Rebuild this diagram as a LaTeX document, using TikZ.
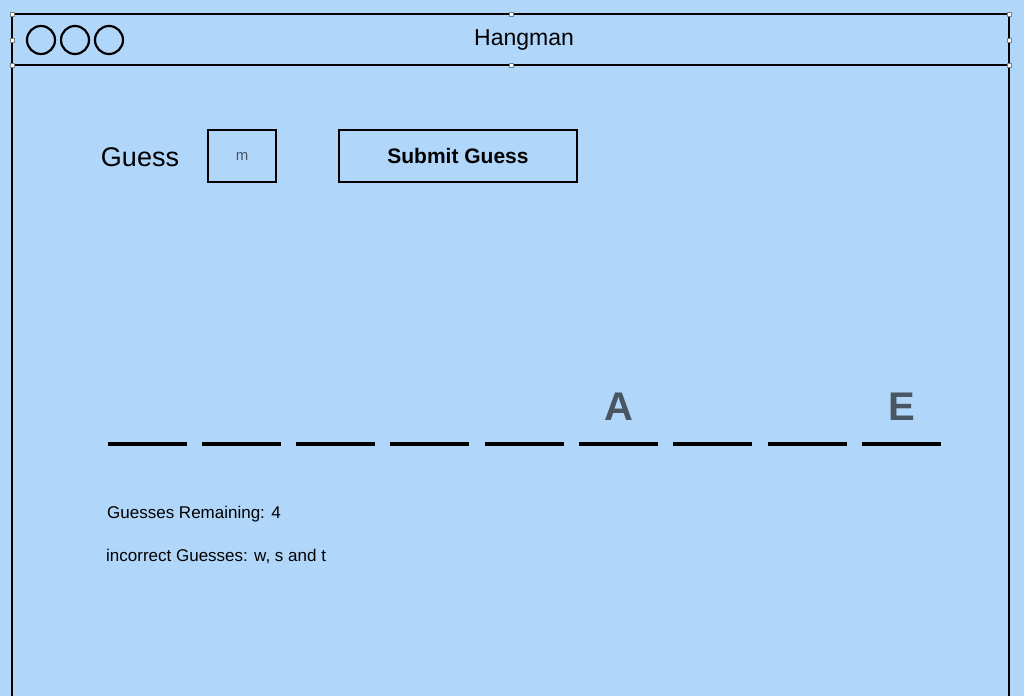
\documentclass[tikz,border=0pt]{standalone}
\usepackage{fontspec}
\setmainfont{Liberation Sans}
\definecolor{sky}{HTML}{B0D6FA}
\definecolor{slate}{HTML}{4A5562}
\tikzstyle{handle}=[draw=gray,fill=white,shape=rectangle,minimum size=4pt,inner sep=0,line width=0.6pt]
\tikzstyle{dot}=[draw,shape=circle,minimum size=28pt,inner sep=0,line width=2.2pt]
\tikzstyle{box}=[draw,rectangle,line width=2.5pt,inner sep=0]
\tikzstyle{blank}=[line width=3.5pt]
\begin{document}
\begin{tikzpicture}[x=1pt,y=-1pt]
\fill[sky] (0,0) rectangle (1024,696);
\useasboundingbox (0,0) rectangle (1024,696);

% window frame
\draw[line width=2pt] (12,696)--(12,14)--(1009,14)--(1009,696);
\draw[line width=2pt] (12,65)--(1009,65);
\foreach \x in {12,511,1009}{
	\foreach \y in {14,65}{
	\node[handle] at (\x,\y) {};
	}}
\node[handle] at (12,40) {};
\node[handle] at (1009,40) {};
\foreach \x [count=\i] in {41,75,109}
	\node[dot] (dot\i) at (\x,40) {};
\node (title) at (524,40) {\fontsize{23}{23}\selectfont Hangman};

% guess row
\node (guess) at (140,157) {\fontsize{27}{27}\selectfont Guess};
\node[box,minimum width=68pt,minimum height=52pt] (input) at (242,156) {\fontsize{15}{15}\selectfont\color{slate}m};
\node[box,minimum width=238pt,minimum height=52pt] (submit) at (458,156) {\fontsize{21}{21}\selectfont\bfseries Submit Guess};

% blanks
\foreach \x [count=\i] in {108,202,296,390,485,579,673,768,862}{
	\coordinate (b\i) at (\x,444);
	\draw[blank] (b\i) -- ++(79,0);
	}
\node[slate] (letA) at (619,407) {\fontsize{40}{40}\selectfont\bfseries A};
\node[slate] (letE) at (902,407) {\fontsize{40}{40}\selectfont\bfseries E};

% status
\node[anchor=west,inner sep=0] (remain) at (107,514) {\fontsize{17}{17}\selectfont Guesses Remaining: 4};
\node[anchor=west,inner sep=0] (wrong) at (106,556) {\fontsize{17}{17}\selectfont incorrect Guesses: w, s and t};
\end{tikzpicture}
\end{document}
